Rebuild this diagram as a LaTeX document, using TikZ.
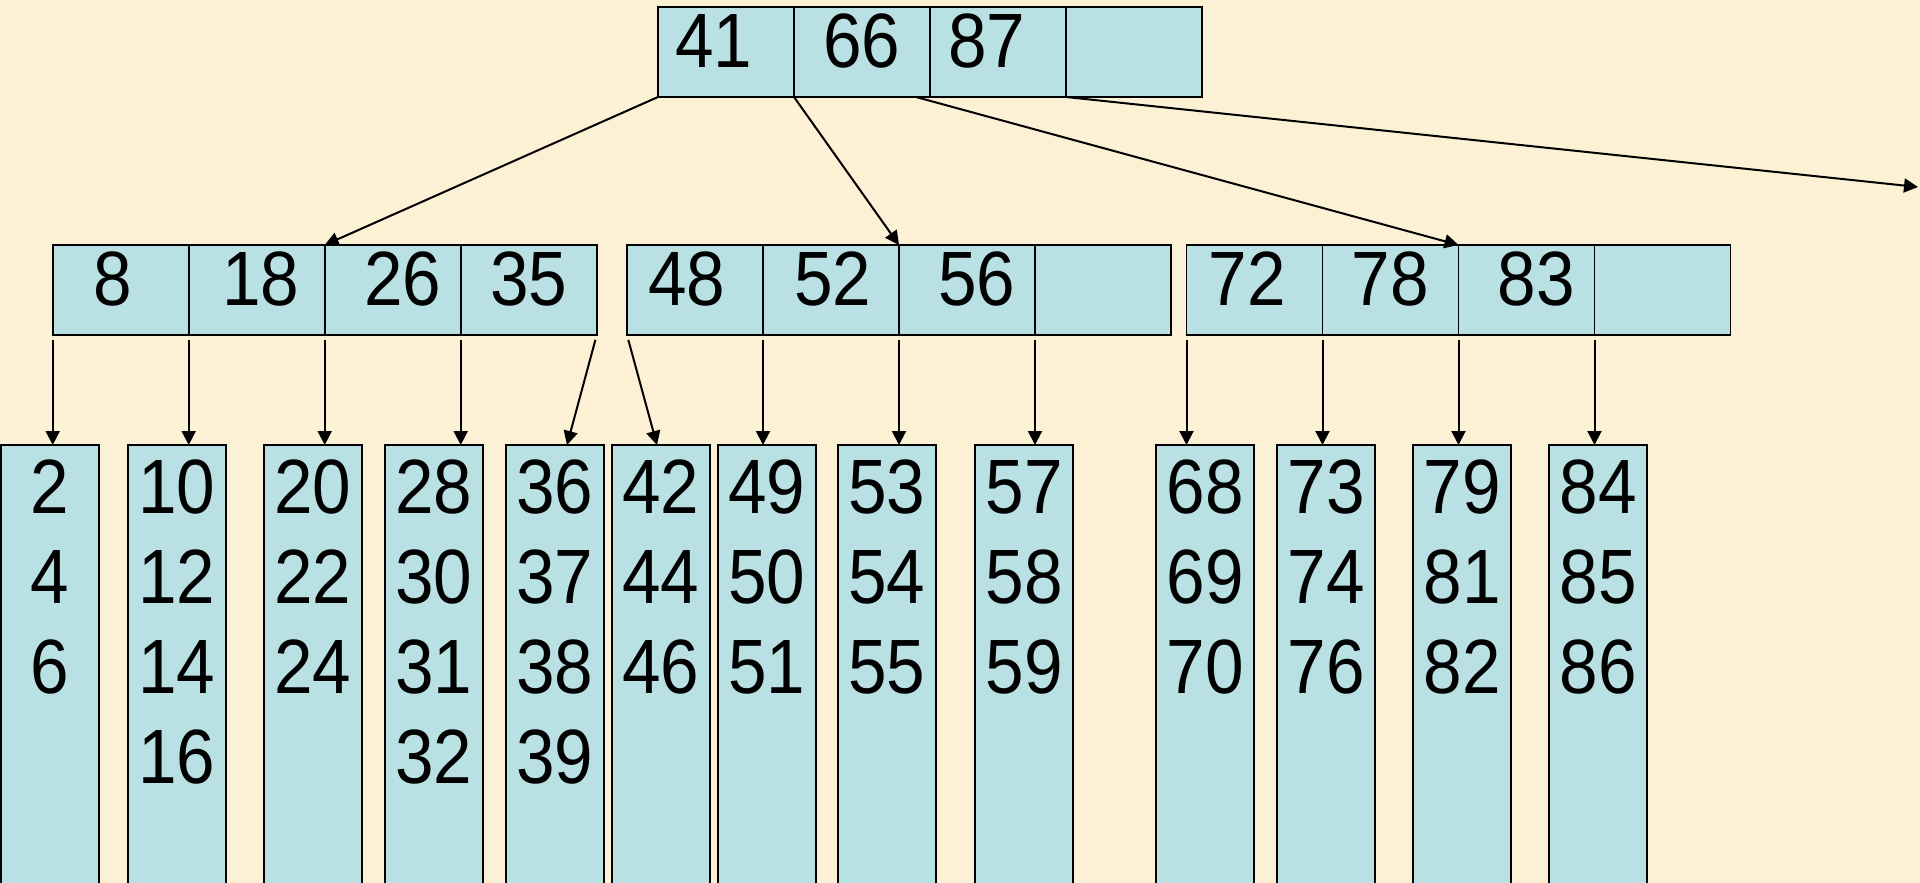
\documentclass[tikz,border=0pt]{standalone}
\usepackage{fontspec}
\setmainfont{Liberation Sans}[FakeStretch=0.9]
\usepackage{tikz}
\usetikzlibrary{arrows.meta,calc,positioning}
\usepackage{xcolor}
\definecolor{paper}{RGB}{252,241,213}
\definecolor{keyblue}{RGB}{185,224,227}

\begin{document}
\begin{tikzpicture}[x=1pt,y=-1pt,
  cell/.style={draw,fill=keyblue,line width=1.6pt,minimum width=136pt,minimum height=90pt,
    inner sep=0pt,outer sep=0pt,text height=53pt,text depth=23pt,font=\fontsize{77}{90}\selectfont},
  leaf/.style={draw,fill=keyblue,line width=1.6pt,minimum width=98pt,minimum height=470pt,
    anchor=north,outer sep=0pt},
  keys/.style={inner sep=0pt,align=center,font=\fontsize{77}{90}\selectfont},
  ptr/.style={-{Triangle[length=14pt,width=14pt]},line width=2pt}]
\useasboundingbox (0,0) rectangle (1920,883);
\fill[paper] (0,0) rectangle (1920,883);
\clip (0,0) rectangle (1920,883);

% root and inner level (key / nudge of the key inside its cell)
\foreach \v/\s [count=\i] in {41/-12,66/0,87/-11,{}/0}
  \node[cell] (r\i) at ({658+136*\i-68},52) {\hspace*{\s pt}\v\hspace*{-\s pt}};
\foreach \v/\s [count=\i] in {8/-8,18/4,26/10,35/0}
  \node[cell] (a\i) at ({52.7+136*\i-68},290) {\hspace*{\s pt}\v\hspace*{-\s pt}};
\foreach \v/\s [count=\i] in {48/-8,52/2,56/10,{}/0}
  \node[cell] (b\i) at ({627+136*\i-68},290) {\hspace*{\s pt}\v\hspace*{-\s pt}};
\foreach \v/\s [count=\i] in {72/-7,78/0,83/10,{}/0}
  \node[cell] (c\i) at ({1186.5+136*\i-68},290) {\hspace*{\s pt}\v\hspace*{-\s pt}};

% leaves
\foreach \x/\k [count=\i] in {0.8/{2\\4\\6},128/{10\\12\\14\\16},264/{20\\22\\24},
    385/{28\\30\\31\\32},506/{36\\37\\38\\39},612/{42\\44\\46},718/{49\\50\\51},
    838/{53\\54\\55},975/{57\\58\\59},1156/{68\\69\\70},1277/{73\\74\\76},
    1413/{79\\81\\82},1549/{84\\85\\86}}
{
  \node[leaf] (l\i) at (\x+49,445) {};
  \node[keys,below=15pt of l\i.north] (t\i) {\k};
}

% pointers from the root
\coordinate (far) at (1918,187);
\draw[ptr] (r1.south west) -- (a3.north west);
\draw[ptr] (r2.south west) -- (b3.north west);
\draw[ptr] ([xshift=-14pt]r2.south east) -- (c3.north west);
\draw[ptr] (r4.south west) -- (far);

% pointers to the leaves
\foreach \n/\l in {a1/l1,a2/l2,a3/l3,a4/l4,b2/l7,b3/l8,b4/l9,c1/l10,c2/l11,c3/l12,c4/l13}
  \draw[ptr,shorten <=5pt] (\n.south west) -- (\n.south west |- \l.north);
\draw[ptr,shorten <=5pt] (a4.south east) -- ([xshift=12pt]l5.north);
\draw[ptr,shorten <=5pt] (b1.south west) -- ([xshift=-4pt]l6.north);
\end{tikzpicture}
\end{document}
